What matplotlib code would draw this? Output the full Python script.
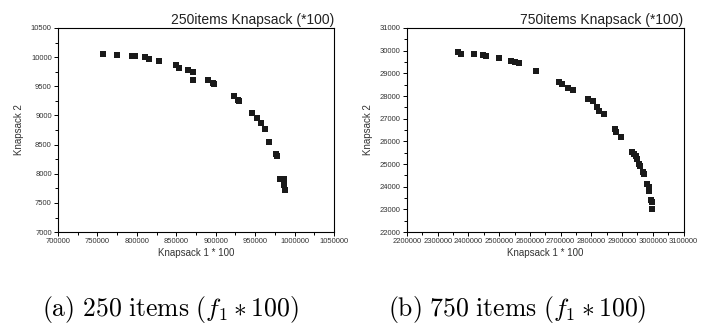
import matplotlib.pyplot as plt
from matplotlib.ticker import MultipleLocator

plt.rcParams['font.family'] = ['Liberation Sans', 'DejaVu Sans']
plt.rcParams['mathtext.fontset'] = 'cm'

# 250 items
k1_250 = [757350, 774640, 793600, 798250, 810060, 815540, 828200, 849700, 853500,
          864460, 870790, 870790, 889760, 896930, 897800, 923500, 928200, 929800,
          945850, 953000, 957200, 962300, 968200, 977000, 977900, 982100, 986750,
          986750, 987600]
k2_250 = [10052, 10041, 10024, 10012, 9995, 9966, 9926, 9857, 9811,
          9771, 9737, 9616, 9605, 9553, 9536, 9329, 9261, 9249,
          9043, 8951, 8865, 8773, 8538, 8337, 8302, 7912, 7906,
          7803, 7729]

# 750 items
k1_750 = [2365900, 2375700, 2416900, 2446100, 2458000, 2498200, 2539400, 2552400,
          2563300, 2620700, 2693400, 2704200, 2723700, 2738900, 2788800, 2804000,
          2818000, 2825600, 2841900, 2875500, 2879800, 2895000, 2931900, 2939500,
          2944900, 2949200, 2955800, 2957900, 2967700, 2972000, 2980700, 2986100,
          2988300, 2994800, 2997000, 2997000]
k2_750 = [29926, 29853, 29853, 29824, 29779, 29691, 29559, 29515,
          29456, 29088, 28618, 28544, 28353, 28279, 27868, 27765,
          27515, 27353, 27220, 26544, 26426, 26176, 25544, 25426,
          25338, 25221, 25015, 24912, 24662, 24574, 24133, 23985,
          23809, 23426, 23338, 23015]

fig = plt.figure(figsize=(7.04, 3.33), dpi=100)
ax1 = fig.add_axes([0.0824, 0.303, 0.392, 0.613])
ax2 = fig.add_axes([0.578, 0.303, 0.393, 0.613])

panels = [
    (ax1, k1_250, k2_250, (700000, 1050000), 50000, (7000, 10500), 500,
     '250items Knapsack (*100)'),
    (ax2, k1_750, k2_750, (2200000, 3100000), 100000, (22000, 31000), 1000,
     '750items Knapsack (*100)'),
]

for ax, x, y, xlim, xstep, ylim, ystep, title in panels:
    ax.scatter(x, y, marker='s', s=15, color='#1a1a1a', linewidths=0)
    ax.set_xlim(*xlim)
    ax.set_ylim(*ylim)
    ax.xaxis.set_major_locator(MultipleLocator(xstep))
    ax.xaxis.set_minor_locator(MultipleLocator(xstep / 2))
    ax.yaxis.set_major_locator(MultipleLocator(ystep))
    ax.yaxis.set_minor_locator(MultipleLocator(ystep / 2))
    ax.tick_params(which='major', length=3, width=0.7, labelsize=5.5, pad=1.5,
                   labelcolor='#333333')
    ax.tick_params(which='minor', length=2, width=0.7)
    ax.ticklabel_format(useOffset=False, style='plain')
    for s in ax.spines.values():
        s.set_linewidth(0.8)
    ax.set_xlabel('Knapsack 1 * 100', fontsize=7, labelpad=2, color='#333333')
    ax.set_ylabel('Knapsack 2', fontsize=7, labelpad=5, color='#333333')
    ax.set_title(title, loc='right', fontsize=10, pad=3, color='#222222')

fig.text(0.059, 0.07, r'$\mathrm{(a)\ 250\ items\ (}f_1 \ast 100\mathrm{)}$',
         fontsize=18.5, va='center')
fig.text(0.551, 0.07, r'$\mathrm{(b)\ 750\ items\ (}f_1 \ast 100\mathrm{)}$',
         fontsize=18.5, va='center')

fig.savefig('out.png', dpi=100)
